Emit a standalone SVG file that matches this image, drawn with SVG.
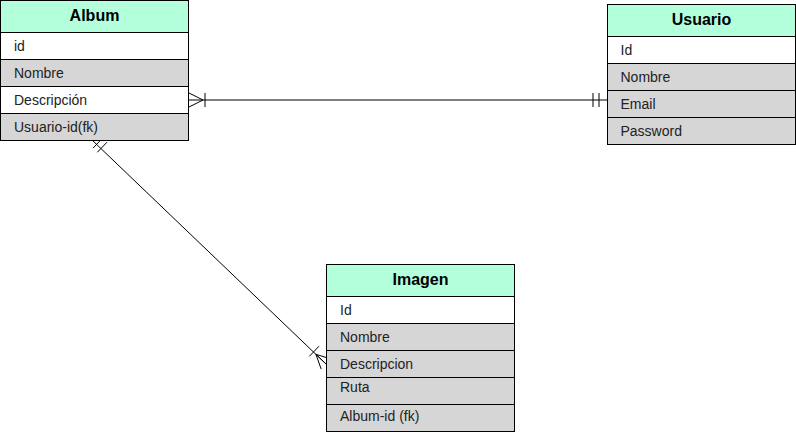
<svg xmlns="http://www.w3.org/2000/svg" width="796" height="432" viewBox="0 0 796 432">
<style>
.hd{fill:#b3ffdb;stroke:#000;stroke-width:1}
.w{fill:#fff;stroke:#000;stroke-width:1}
.g{fill:#d6d6d6;stroke:#000;stroke-width:1}
.ht{font-family:"Liberation Sans",Arial,sans-serif;font-size:16px;font-weight:bold;fill:#000;text-anchor:middle}
.t{font-family:"Liberation Sans",Arial,sans-serif;font-size:14px;fill:#222}
.e{fill:none;stroke:#000;stroke-width:1}
</style>
<rect width="796" height="432" fill="#fff"/>
<g id="connectors">
  <line class="e" x1="189" y1="100" x2="607" y2="100"/>
  <path class="e" d="M189,93 L203,100 L189,107 M205,93 V107 M593,93 V107 M599,93 V107"/>
  <line class="e" x1="92" y1="140" x2="326" y2="364"/>
  <path class="e" d="M93.0,148.1 L102.7,138.0 M97.3,152.3 L107.0,142.2"/>
  <path class="e" d="M330.8,358.9 L315.9,354.3 L326,364 M321.2,369.1 L315.9,354.3 M309.4,356.3 L319.0,346.2"/>
</g>
<g id="album">
  <rect class="hd" x="0.5" y="0.5" width="188" height="32"/>
  <text class="ht" x="94.5" y="21">Album</text>
  <rect class="w" x="0.5" y="32.5" width="188" height="27"/>
  <rect class="g" x="0.5" y="59.5" width="188" height="27"/>
  <rect class="w" x="0.5" y="86.5" width="188" height="27"/>
  <rect class="g" x="0.5" y="113.5" width="188" height="27"/>
  <text class="t" x="14" y="50.5">id</text>
  <text class="t" x="14" y="77.5">Nombre</text>
  <text class="t" x="14" y="104.5">Descripción</text>
  <text class="t" x="14" y="131.5">Usuario-id(fk)</text>
</g>
<g id="usuario">
  <rect class="hd" x="607.5" y="4.5" width="188" height="32"/>
  <text class="ht" x="701.5" y="25">Usuario</text>
  <rect class="w" x="607.5" y="36.5" width="188" height="27"/>
  <rect class="g" x="607.5" y="63.5" width="188" height="27"/>
  <rect class="g" x="607.5" y="90.5" width="188" height="27"/>
  <rect class="g" x="607.5" y="117.5" width="188" height="27"/>
  <text class="t" x="620.5" y="54.5">Id</text>
  <text class="t" x="620.5" y="81.5">Nombre</text>
  <text class="t" x="620.5" y="108.5">Email</text>
  <text class="t" x="620.5" y="135.5">Password</text>
</g>
<g id="imagen">
  <rect class="hd" x="326.5" y="264.5" width="188" height="32"/>
  <text class="ht" x="420.5" y="285">Imagen</text>
  <rect class="w" x="326.5" y="296.5" width="188" height="27"/>
  <rect class="g" x="326.5" y="323.5" width="188" height="27"/>
  <rect class="g" x="326.5" y="350.5" width="188" height="27"/>
  <rect class="g" x="326.5" y="377.5" width="188" height="27"/>
  <rect class="g" x="326.5" y="404.5" width="188" height="27"/>
  <text class="t" x="340" y="314.5">Id</text>
  <text class="t" x="340" y="341.5">Nombre</text>
  <text class="t" x="340" y="369">Descripcion</text>
  <text class="t" x="340" y="392">Ruta</text>
  <text class="t" x="340" y="420.5">Album-id (fk)</text>
</g>
</svg>
